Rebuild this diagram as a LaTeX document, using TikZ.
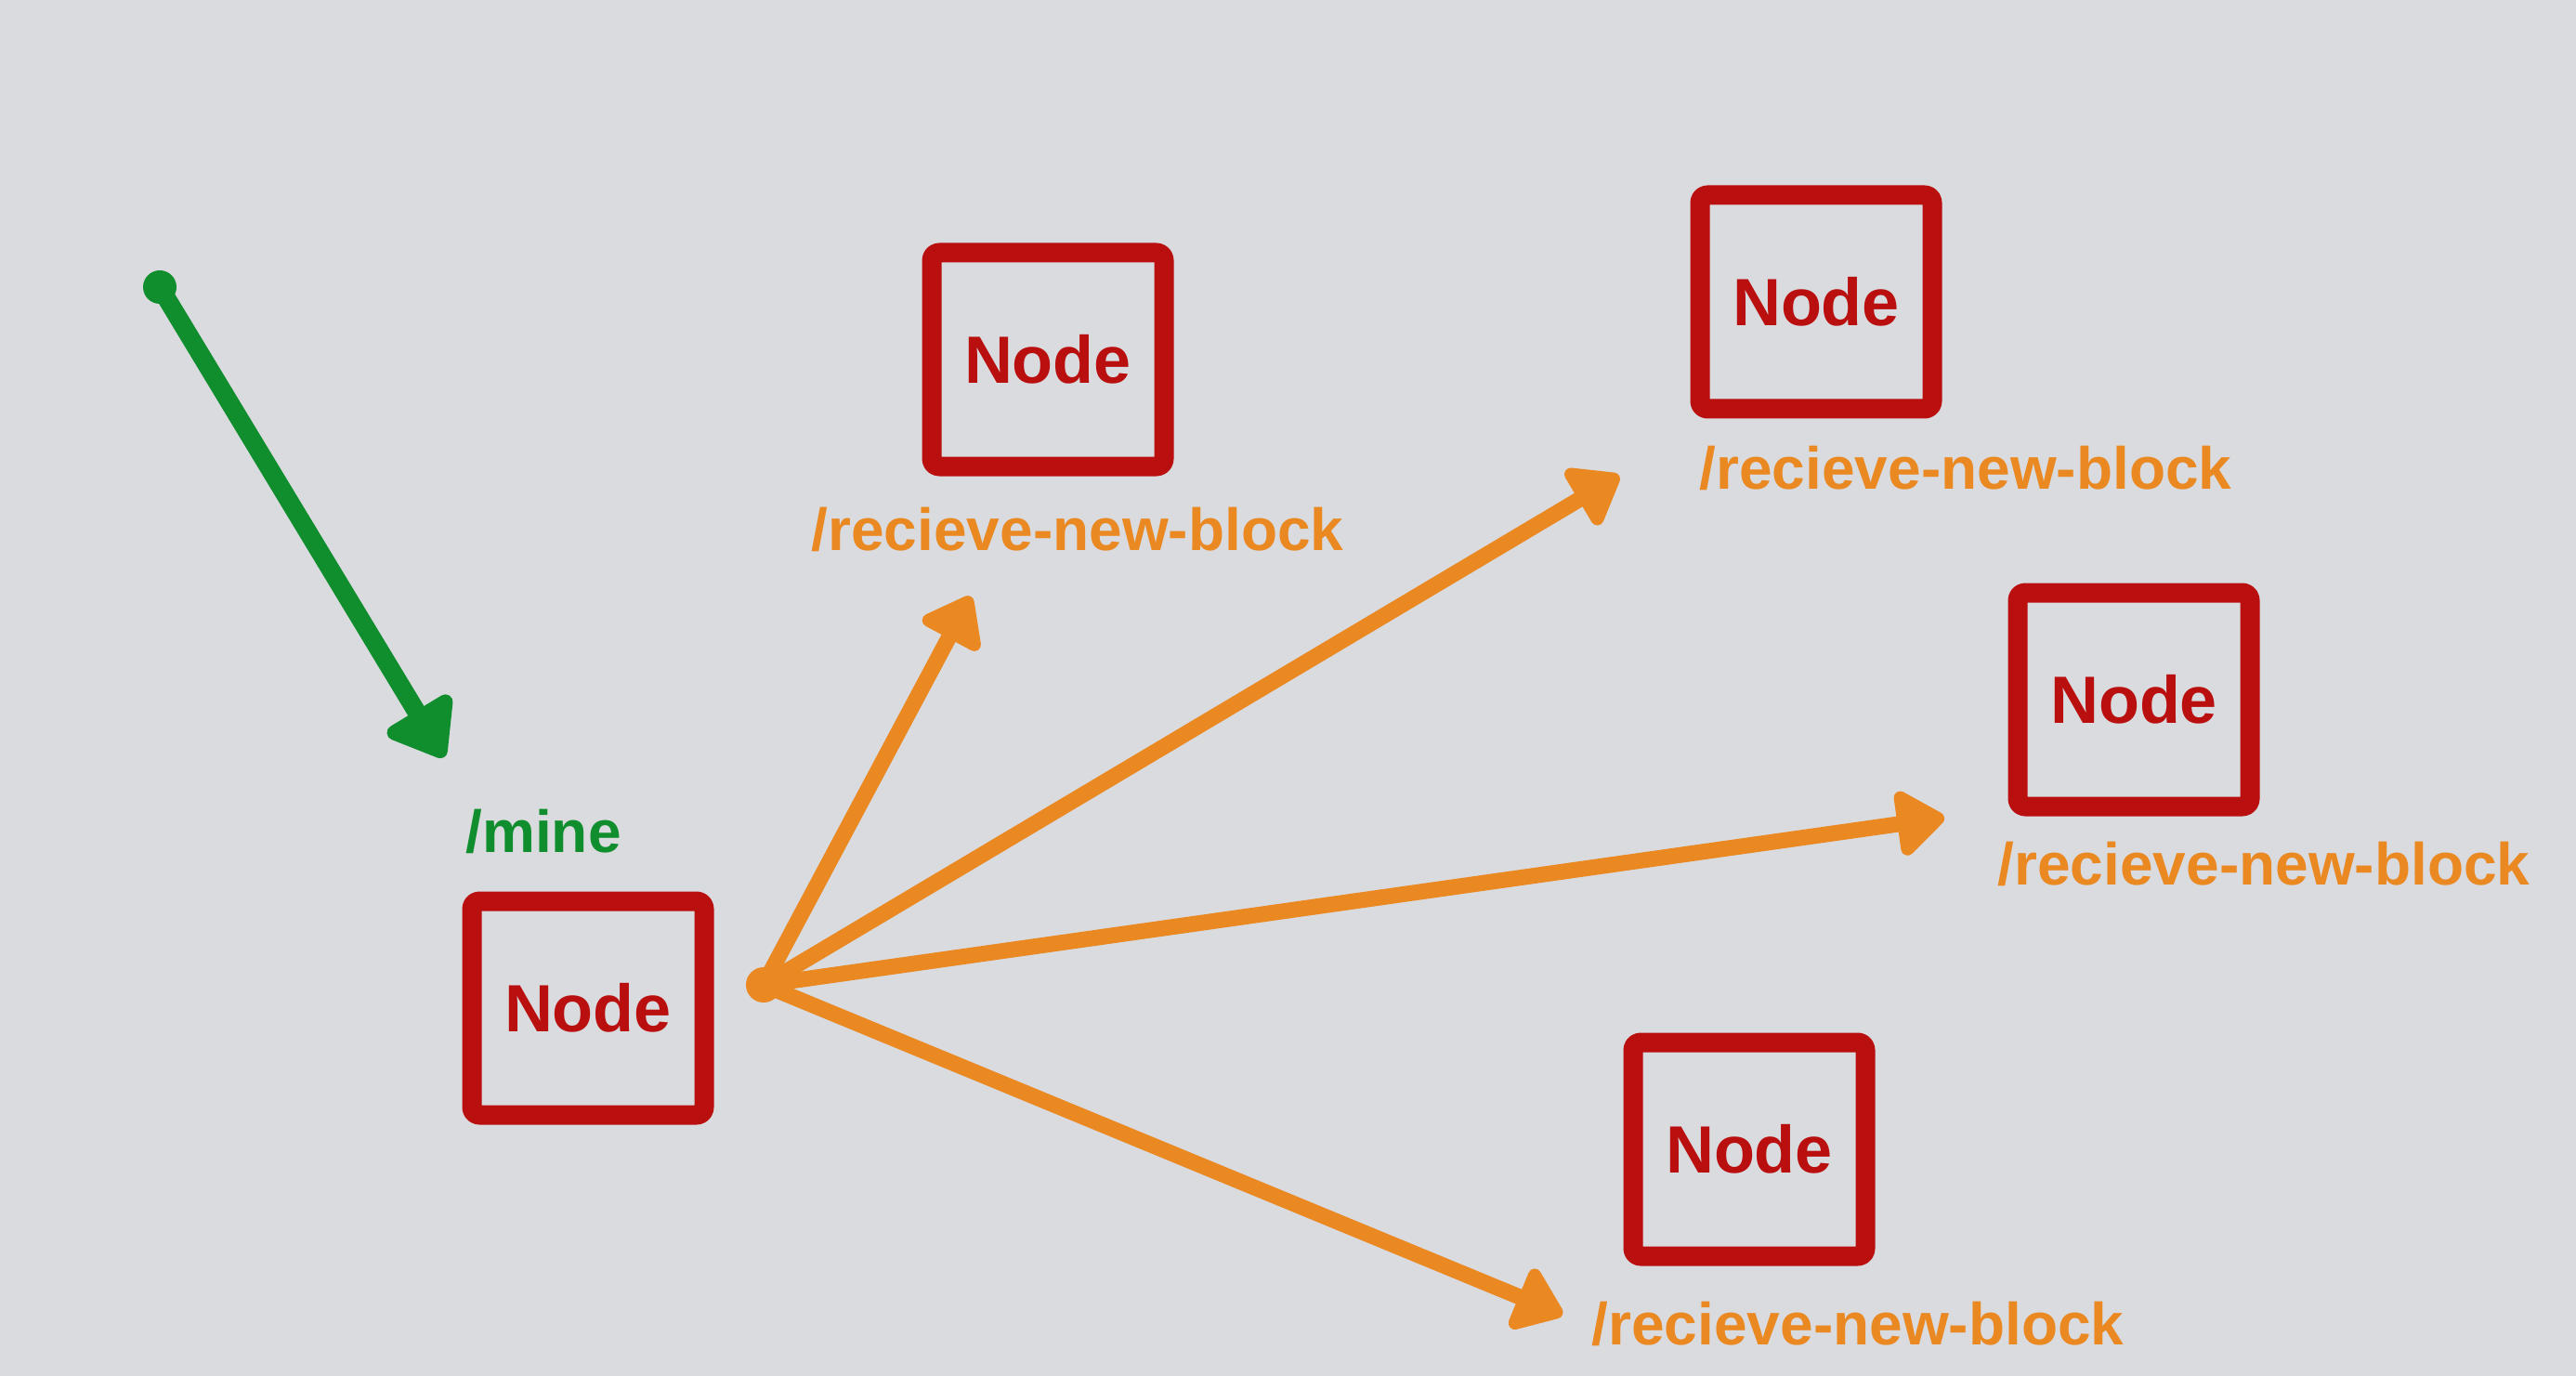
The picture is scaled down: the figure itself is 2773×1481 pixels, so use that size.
\documentclass[tikz,border=0pt]{standalone}
\usepackage{fontspec}
\setmainfont{Liberation Sans}
\usetikzlibrary{arrows.meta}
\definecolor{bgc}{RGB}{218,219,223}
\definecolor{boxred}{RGB}{185,15,15}
\definecolor{arrorange}{RGB}{234,136,34}
\definecolor{arrgreen}{RGB}{16,142,46}
\tikzset{
  nodebox/.style={draw=boxred, line width=10.5pt, rounded corners=4pt, line join=round,
    minimum width=125pt, minimum height=115pt, inner sep=0pt,
    text=boxred, font=\fontsize{36}{40}\selectfont\bfseries},
  eplabel/.style={text=arrorange, inner sep=0pt, font=\fontsize{32}{36}\selectfont\bfseries},
  minelabel/.style={text=arrgreen, inner sep=0pt, font=\fontsize{32}{36}\selectfont\bfseries},
  orarrow/.style={draw=arrorange, line width=8.5pt, line cap=round,
    -{Triangle[length=28pt, width=40pt, round]}},
  grarrow/.style={draw=arrgreen, line width=10pt, line cap=round,
    -{Triangle[length=32pt, width=46pt, round]}},
}
\begin{document}
\begin{tikzpicture}[x=0.5pt, y=-0.5pt]
  \fill[bgc] (0,0) rectangle (2773,1481);
  \useasboundingbox (0,0) rectangle (2773,1481);

  % boxes
  \node[nodebox] (S)  at (633,1085) {Node};
  \node[nodebox] (N1) at (1128,387) {Node};
  \node[nodebox] (N2) at (1955,325) {Node};
  \node[nodebox] (N3) at (2297,753) {Node};
  \node[nodebox] (N4) at (1883,1237) {Node};

  % labels
  \node[minelabel] (lmine) at (585,895) {/mine};
  \node[eplabel] (L1) at (1160,570) {/recieve-new-block};
  \node[eplabel] (L2) at (2116,504) {/recieve-new-block};
  \node[eplabel] (L3) at (2437,930) {/recieve-new-block};
  \node[eplabel] (L4) at (2000,1425) {/recieve-new-block};

  % coordinates for arrows
  \coordinate (src) at (822,1060);
  \coordinate (t1) at (1045,642);
  \coordinate (t2) at (1743,512);
  \coordinate (t3) at (2093,880);
  \coordinate (t4) at (1682,1415);
  \coordinate (gstart) at (172,309);
  \coordinate (gend) at (478,815);

  % green arrow
  \fill[arrgreen] (gstart) circle (9pt);
  \draw[grarrow] (gstart) -- (gend);

  % orange arrows
  \fill[arrorange] (src) circle (9.5pt);
  \draw[orarrow] (src) -- (t1);
  \draw[orarrow] (src) -- (t2);
  \draw[orarrow] (src) -- (t3);
  \draw[orarrow] (src) -- (t4);
\end{tikzpicture}
\end{document}
